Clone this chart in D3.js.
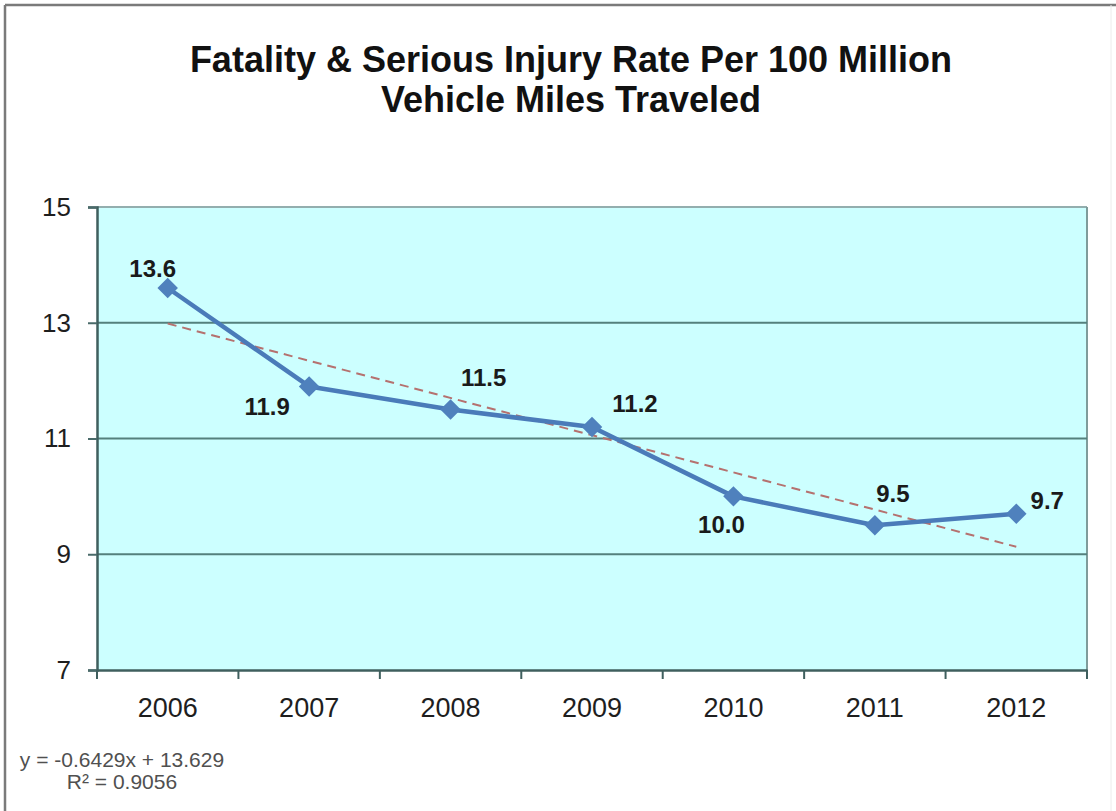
<!DOCTYPE html>
<html>
<head>
<meta charset="utf-8">
<script src="https://cdn.jsdelivr.net/npm/d3@7"></script>
<style>
  html, body { margin: 0; padding: 0; background: #ffffff; }
  svg { display: block; }
  text { font-family: "Liberation Sans", Arial, sans-serif; }
</style>
</head>
<body>
<svg id="chart" width="1116" height="811"></svg>
<script>
// ---- data ----
const years = ["2006", "2007", "2008", "2009", "2010", "2011", "2012"];
const rates = [13.6, 11.9, 11.5, 11.2, 10.0, 9.5, 9.7];
const yTicks = [7, 9, 11, 13, 15];
const gridValues = [9, 11, 13];
const trendSlope = -0.6429;
const trendIntercept = 13.629;
const titleLines = ["Fatality & Serious Injury Rate Per 100 Million", "Vehicle Miles Traveled"];
const equationLines = ["y = -0.6429x + 13.629", "R\u00B2 = 0.9056"];
// label placement (dx from marker centre, dy to baseline)
const labelOffsets = [[-15, -11], [-42, 29], [33, -24], [43, -15], [-12, 37], [18, -23], [31, -5]];

// ---- layout ----
const W = 1116, H = 811;
const plot = { left: 97, right: 1087, top: 207, bottom: 670 };

const svg = d3.select("#chart");

// outer frame
svg.append("line").attr("x1", 5).attr("y1", 5).attr("x2", 5).attr("y2", H)
  .attr("stroke", "#7a7a7a").attr("stroke-width", 2.5);
svg.append("line").attr("x1", 5).attr("y1", 5).attr("x2", W).attr("y2", 5)
  .attr("stroke", "#7a7a7a").attr("stroke-width", 2.5);
svg.append("line").attr("x1", 1111).attr("y1", 5).attr("x2", 1111).attr("y2", H)
  .attr("stroke", "#ececec").attr("stroke-width", 1);

// scales
const x = d3.scaleBand().domain(years).range([plot.left, plot.right]).padding(0);
const cx = d => x(d) + x.bandwidth() / 2;
const y = d3.scaleLinear().domain([7, 15]).range([plot.bottom, plot.top]);

// plot background
svg.append("rect")
  .attr("x", plot.left).attr("y", plot.top)
  .attr("width", plot.right - plot.left).attr("height", plot.bottom - plot.top)
  .attr("fill", "#ccffff");

// plot top and right border
svg.append("line").attr("x1", plot.left).attr("x2", plot.right)
  .attr("y1", y(15)).attr("y2", y(15)).attr("stroke", "#93aeae").attr("stroke-width", 2);
svg.append("line").attr("x1", plot.right).attr("x2", plot.right)
  .attr("y1", plot.top).attr("y2", plot.bottom).attr("stroke", "#7f9c9b").attr("stroke-width", 2);

// gridlines
svg.append("g").selectAll("line").data(gridValues).join("line")
  .attr("x1", plot.left).attr("x2", plot.right)
  .attr("y1", d => y(d)).attr("y2", d => y(d))
  .attr("stroke", "#54807d").attr("stroke-width", 2);

// y axis
const yAxis = svg.append("g").attr("transform", `translate(${plot.left},0)`)
  .call(d3.axisLeft(y).tickValues(yTicks).tickSize(9).tickPadding(17).tickFormat(d3.format("d")));
yAxis.select(".domain").attr("stroke", "#3f5f5e").attr("stroke-width", 2.5);
yAxis.selectAll(".tick line").attr("stroke", "#4a6b6a").attr("stroke-width", 2);
yAxis.selectAll(".tick text").attr("font-size", 26).attr("fill", "#1e1e1e")
  .attr("font-family", "'Liberation Sans', Arial, sans-serif");

// x axis
const xAxis = svg.append("g").attr("transform", `translate(0,${plot.bottom})`)
  .call(d3.axisBottom(x).tickSize(0).tickPadding(28));
xAxis.select(".domain").attr("stroke", "#3f5f5e").attr("stroke-width", 2.5);
xAxis.selectAll(".tick text").attr("font-size", 27).attr("fill", "#1e1e1e")
  .attr("font-family", "'Liberation Sans', Arial, sans-serif");
// tick marks between categories
const boundaries = years.map(d => x(d)).concat([x.range()[1]]);
xAxis.selectAll(".bt").data(boundaries).join("line").attr("class", "bt")
  .attr("x1", d => d).attr("x2", d => d).attr("y1", 0).attr("y2", 9)
  .attr("stroke", "#3f5f5e").attr("stroke-width", 2);

// trendline
const trendPts = [1, years.length].map(i => [cx(years[i - 1]), y(trendSlope * i + trendIntercept)]);
svg.append("path")
  .attr("d", d3.line()(trendPts))
  .attr("fill", "none").attr("stroke", "#b5716f").attr("stroke-width", 2)
  .attr("stroke-dasharray", "9,6");

// series line
const pts = years.map((d, i) => [cx(d), y(rates[i])]);
svg.append("path")
  .attr("d", d3.line()(pts))
  .attr("fill", "none").attr("stroke", "#4a7bb9").attr("stroke-width", 4.5)
  .attr("stroke-linejoin", "round");

// markers (diamonds)
svg.append("g").selectAll("path").data(pts).join("path")
  .attr("d", d3.symbol(d3.symbolSquare, 210)())
  .attr("transform", p => `translate(${p[0]},${p[1]}) rotate(45)`)
  .attr("fill", "#4f81bd");

// data labels
svg.append("g").selectAll("text").data(rates).join("text")
  .attr("x", (d, i) => pts[i][0] + labelOffsets[i][0])
  .attr("y", (d, i) => pts[i][1] + labelOffsets[i][1])
  .attr("text-anchor", "middle")
  .attr("font-size", 24).attr("font-weight", "bold").attr("fill", "#1a1a1a")
  .text(d => d3.format(".1f")(d));

// title
svg.append("g").selectAll("text").data(titleLines).join("text")
  .attr("x", 571).attr("y", (d, i) => 72 + i * 40)
  .attr("text-anchor", "middle")
  .attr("font-size", 36).attr("font-weight", "bold").attr("fill", "#111")
  .text(d => d);

// trend equation
svg.append("g").selectAll("text").data(equationLines).join("text")
  .attr("x", 122).attr("y", (d, i) => 767 + i * 22)
  .attr("text-anchor", "middle")
  .attr("font-size", 21).attr("fill", "#505050")
  .text(d => d);
</script>
</body>
</html>
